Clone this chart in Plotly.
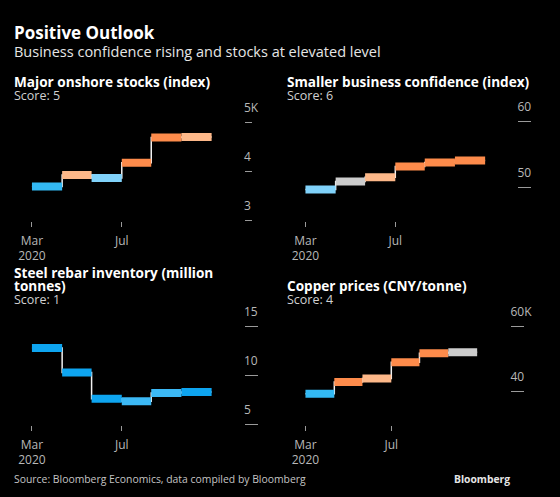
import plotly.graph_objects as go
import pandas as pd

W, H = 560, 497
FONT = "Open Sans"

# ---------------- data ----------------
period_bounds = ["2020-03-01", "2020-04-11", "2020-05-21", "2020-07-01",
                 "2020-08-10", "2020-09-20", "2020-10-31"]
tick_dates = ["2020-03-01", "2020-07-01"]
tick_text = ["Mar<br>2020", "Jul"]

stocks_values = [3700, 3930, 3870, 4180, 4700, 4710]
confidence_values = [49.66, 50.9, 51.55, 53.2, 53.8, 54.1]
rebar_values = [12.85, 10.35, 7.68, 7.42, 8.27, 8.37]
copper_values = [39300, 42900, 44000, 49000, 51800, 52100]

stocks_ticks = [3000, 4000, 5000]
stocks_ticktext = ["3", "4", "5K"]
confidence_ticks = [50, 60]
confidence_ticktext = ["50", "60"]
rebar_ticks = [5, 10, 15]
rebar_ticktext = ["5", "10", "15"]
copper_ticks = [40000, 60000]
copper_ticktext = ["40", "60K"]

# ---------------- styles ----------------
BLUE = "#33b9f4"
LBLUE = "#80d2fa"
DBLUE = "#0ea5f0"
MBLUE = "#3cb9f5"
PEACH = "#fdb889"
ORANGE = "#fd8b4b"
GREY = "#cccccc"

stocks_colors = [BLUE, PEACH, LBLUE, ORANGE, ORANGE, PEACH]
confidence_colors = [LBLUE, GREY, PEACH, ORANGE, ORANGE, ORANGE]
rebar_colors = [DBLUE, DBLUE, DBLUE, MBLUE, MBLUE, DBLUE]
copper_colors = [BLUE, ORANGE, PEACH, ORANGE, ORANGE, GREY]

# panel geometry in pixels: plot left, right, top, bottom,
# pixel of first/second date tick, (value,pixel) pairs for y calibration, ticklen
panels = [
    dict(vals=stocks_values, cols=stocks_colors, tv=stocks_ticks, tt=stocks_ticktext,
         L=12, R=243, T=100, B=215.5, pA=31, pB=121, ya=(4000, 165), yb=(5000, 115), tl=7),
    dict(vals=confidence_values, cols=confidence_colors, tv=confidence_ticks, tt=confidence_ticktext,
         L=292, R=517, T=100, B=215.5, pA=305, pB=395, ya=(50, 181), yb=(60, 114.3), tl=13),
    dict(vals=rebar_values, cols=rebar_colors, tv=rebar_ticks, tt=rebar_ticktext,
         L=12, R=243, T=305, B=424, pA=31, pB=121, ya=(10, 373.5), yb=(15, 323.5), tl=13),
    dict(vals=copper_values, cols=copper_colors, tv=copper_ticks, tt=copper_ticktext,
         L=292, R=510, T=305, B=424, pA=305, pB=391, ya=(40000, 389.3), yb=(60000, 323.3), tl=13),
]


def date_range(pA, pB, L, R):
    a = pd.Timestamp(tick_dates[0])
    b = pd.Timestamp(tick_dates[1])
    per = (b - a) / (pB - pA)
    return [(a - (pA - L) * per).isoformat(), (a + (R - pA) * per).isoformat()]


def val_range(ya, yb, T, B):
    (va, pa), (vb, pb) = ya, yb
    k = (vb - va) / (pb - pa)  # value per pixel (negative)
    return [va + (B - pa) * k, va + (T - pa) * k]


fig = go.Figure()
layout = {}
for i, p in enumerate(panels):
    n = "" if i == 0 else str(i + 1)
    xa, ya_ = "x" + n, "y" + n
    vals = p["vals"]
    # thin white step connector
    fig.add_trace(go.Scatter(x=period_bounds, y=vals + [vals[-1]], mode="lines",
                             line=dict(shape="hv", color="#f2f2f2", width=1.5),
                             xaxis=xa, yaxis=ya_, hoverinfo="skip"))
    for j, v in enumerate(vals):
        fig.add_trace(go.Scatter(x=[period_bounds[j], period_bounds[j + 1]], y=[v, v],
                                 mode="lines", line=dict(color=p["cols"][j], width=8),
                                 xaxis=xa, yaxis=ya_, hoverinfo="skip"))
    layout["xaxis" + n] = dict(
        domain=[p["L"] / W, p["R"] / W], anchor=ya_, type="date",
        range=date_range(p["pA"], p["pB"], p["L"], p["R"]),
        tickvals=tick_dates, ticktext=tick_text, ticks="outside", ticklen=5,
        tickcolor="#9a9a9a", tickwidth=1, showgrid=False, zeroline=False, showline=False,
        ticklabelstandoff=3,
        tickfont=dict(family=FONT, size=12, color="#b8b8b8"), fixedrange=True)
    layout["yaxis" + n] = dict(
        domain=[1 - p["B"] / H, 1 - p["T"] / H], anchor=xa, side="right",
        range=val_range(p["ya"], p["yb"], p["T"], p["B"]),
        tickvals=p["tv"], ticktext=p["tt"], ticks="outside", ticklen=p["tl"],
        tickcolor="#9a9a9a", tickwidth=1, showgrid=False, zeroline=False, showline=False,
        ticklabelshift=-15, ticklabelstandoff=-(p["tl"] + 3),
        tickfont=dict(family=FONT, size=12, color="#b8b8b8"), fixedrange=True)


def ann(text, x, y, size, color, bold=False, xanchor="left"):
    return dict(text=("<b>%s</b>" % text) if bold else text, x=x / W, y=1 - y / H,
                xref="paper", yref="paper", xanchor=xanchor, yanchor="middle",
                showarrow=False, align="left",
                font=dict(family=FONT, size=size, color=color))


annotations = [
    ann("Positive Outlook", 11, 23, 17, "#ffffff", bold=True),
    ann("Business confidence rising and stocks at elevated level", 11, 42.5, 14.5, "#e6e6e6"),
    ann("Major onshore stocks (index)", 11, 72.5, 13.6, "#ffffff", bold=True),
    ann("Score: 5", 11, 87, 12.5, "#d0d0d0"),
    ann("Smaller business confidence (index)", 285, 72.5, 13.6, "#ffffff", bold=True),
    ann("Score: 6", 285, 87, 12.5, "#d0d0d0"),
    ann("Steel rebar inventory (million", 11, 267.5, 13.6, "#ffffff", bold=True),
    ann("tonnes)", 11, 281.5, 13.6, "#ffffff", bold=True),
    ann("Score: 1", 11, 295, 12.5, "#d0d0d0"),
    ann("Copper prices (CNY/tonne)", 285, 281.5, 13.6, "#ffffff", bold=True),
    ann("Score: 4", 285, 295, 12.5, "#d0d0d0"),
    ann("Source: Bloomberg Economics, data compiled by Bloomberg", 11, 479, 10.4, "#c4c4c4"),
    ann("Bloomberg", 512, 479, 10.3, "#e6e6e6", bold=True, xanchor="right"),
]

fig.update_layout(
    width=W, height=H, margin=dict(l=0, r=0, t=0, b=0),
    paper_bgcolor="#000000", plot_bgcolor="#000000",
    showlegend=False, hovermode=False, annotations=annotations,
    font=dict(family=FONT, color="#cccccc"),
    **layout,
)

fig.write_html("out.html", config=dict(displayModeBar=False),
               post_script="document.body.style.margin='0';document.body.style.overflow='hidden';document.body.style.background='#000';")
